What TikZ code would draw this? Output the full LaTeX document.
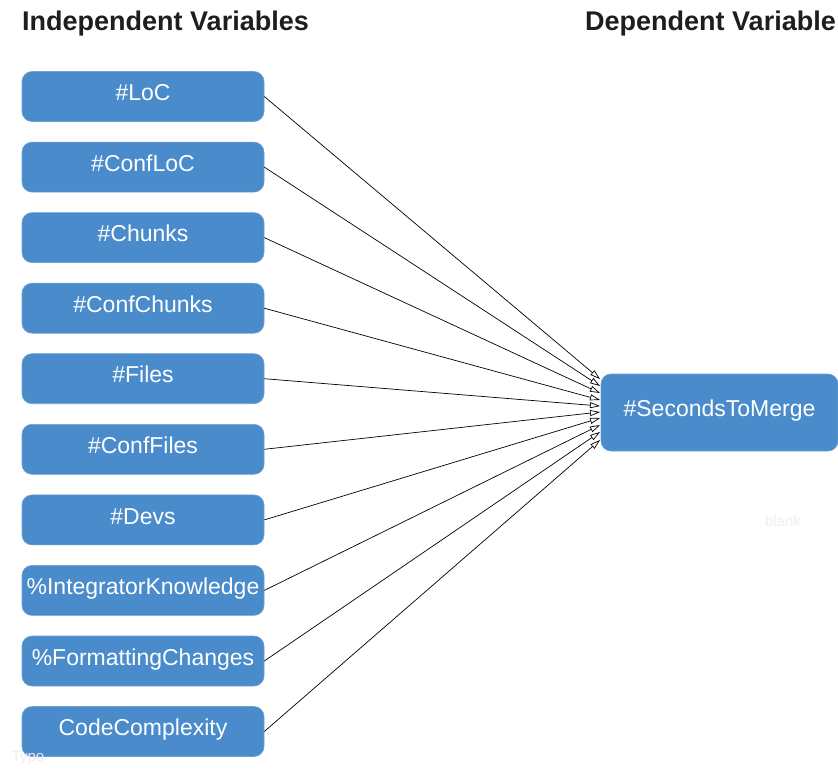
\documentclass[tikz,border=0pt]{standalone}
\usepackage{fontspec}
\setmainfont{Liberation Sans}
\usetikzlibrary{arrows.meta}
\definecolor{boxblue}{RGB}{74,139,204}
\definecolor{boxedge}{RGB}{110,160,212}
\definecolor{titlegray}{RGB}{30,30,30}
\tikzset{
  varbox/.style={draw=boxedge, line width=0.6pt, fill=boxblue, rounded corners=10pt,
    text=white, font=\fontsize{23}{25}\selectfont, inner sep=0pt,
    text height=16.5pt, text depth=8pt},
  indep/.style={varbox, minimum width=242pt, minimum height=50pt},
  dep/.style={varbox, minimum width=237pt, minimum height=77pt},
  heading/.style={font=\fontsize{27}{29}\selectfont\bfseries, text=titlegray, inner sep=0pt, anchor=base west},
  ghost/.style={font=\fontsize{15}{16}\selectfont, text=gray!14, inner sep=0pt},
  conn/.style={draw=black, line width=0.7pt, -{Triangle[open, length=10pt, width=6pt]}}
}
\begin{document}
\begin{tikzpicture}[x=1pt, y=-1pt]
\useasboundingbox (0,0) rectangle (838,769);
\node[heading] (t1) at (22,30) {Independent Variables};
\node[heading] (t2) at (585,30) {Dependent Variable};

\node[indep] (v1) at (143,96.5) {\#LoC};
\node[indep] (v2) at (143,167.1) {\#ConfLoC};
\node[indep] (v3) at (143,237.6) {\#Chunks};
\node[indep] (v4) at (143,308.2) {\#ConfChunks};
\node[indep] (v5) at (143,378.7) {\#Files};
\node[indep] (v6) at (143,449.3) {\#ConfFiles};
\node[indep] (v7) at (143,519.9) {\#Devs};
\node[indep] (v8) at (143,590.4) {\%IntegratorKnowledge};
\node[indep] (v9) at (143,661.0) {\%FormattingChanges};
\node[indep] (v10) at (143,731.5) {CodeComplexity};

\node[dep] (dv) at (719.5,412.5) {\#SecondsToMerge};

\coordinate (e1) at (600,379);
\coordinate (e2) at (600,386);
\coordinate (e3) at (600,393);
\coordinate (e4) at (600,400);
\coordinate (e5) at (600,406);
\coordinate (e6) at (600,412);
\coordinate (e7) at (600,418);
\coordinate (e8) at (600,425);
\coordinate (e9) at (600,432);
\coordinate (e10) at (600,440);

\foreach \i in {1,...,10} {
  \draw[conn] (v\i.east) -- (e\i);
}

\node[ghost] (g1) at (783,521) {blank};
\node[ghost] (g2) at (28,758) {Typo};
\end{tikzpicture}
\end{document}
